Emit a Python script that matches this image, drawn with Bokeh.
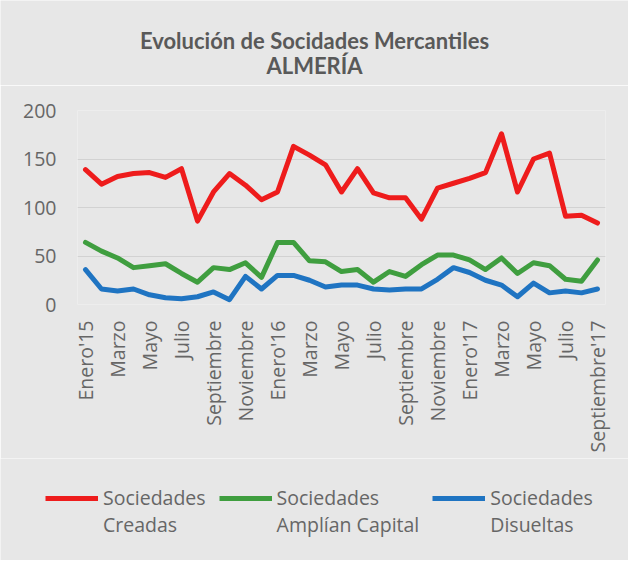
import math
from bokeh.plotting import figure
from bokeh.layouts import column
from bokeh.models import FixedTicker, Legend, LegendItem, Range1d, Label
from bokeh.embed import file_html
from bokeh.resources import INLINE

months = ["Enero'15", "Febrero", "Marzo", "Abril", "Mayo", "Junio", "Julio", "Agosto",
          "Septiembre", "Octubre", "Noviembre", "Diciembre",
          "Enero'16", "Febrero", "Marzo", "Abril", "Mayo", "Junio", "Julio", "Agosto",
          "Septiembre", "Octubre", "Noviembre", "Diciembre",
          "Enero'17", "Febrero", "Marzo", "Abril", "Mayo", "Junio", "Julio", "Agosto",
          "Septiembre'17"]

creadas = [139, 124, 132, 135, 136, 131, 140, 86, 116, 135, 123, 108, 116, 163, 154, 144,
           116, 140, 115, 110, 110, 88, 120, 125, 130, 136, 176, 116, 150, 156, 91, 92, 84]
amplian = [64, 55, 48, 38, 40, 42, 32, 23, 38, 36, 43, 28, 64, 64, 45, 44,
           34, 36, 23, 34, 29, 41, 51, 51, 46, 36, 48, 32, 43, 40, 26, 24, 46]
disueltas = [36, 16, 14, 16, 10, 7, 6, 8, 13, 5, 29, 16, 30, 30, 25, 18,
             20, 20, 16, 15, 16, 16, 26, 38, 33, 25, 20, 8, 22, 12, 14, 12, 16]

y_ticks = [0, 50, 100, 150, 200]
series = [creadas, amplian, disueltas]
series_names = ["Sociedades\nCreadas", "Sociedades\nAmplían Capital", "Sociedades\nDisueltas"]
series_colors = ["#ee1c1c", "#3f9e3f", "#1f74c2"]
title_line1 = "Evolución de Socidades Mercantiles"
title_line2 = "ALMERÍA"

x = list(range(len(months)))
tick_idx = x[::2]

BG = "#e7e7e7"
TXT = "#666666"
W = 628
TH = 85          # title block height
MB = 458         # main block bottom
LH = 560 - MB    # legend block height


def blank(h):
    f = figure(width=W, height=h, output_backend="svg", toolbar_location=None,
               x_axis_type=None, y_axis_type=None,
               x_range=Range1d(-0.5, len(months) - 0.5), y_range=Range1d(1000, 1001),
               min_border_left=0, min_border_right=0, min_border_top=0, min_border_bottom=0,
               background_fill_color=BG, border_fill_color=BG)
    f.outline_line_color = None
    f.grid.visible = False
    f.frame_align = False
    return f


# ---- title block
pt = blank(TH)
pt.add_layout(Label(x=W / 2, y=TH - 40, x_units="screen", y_units="screen", text=title_line1,
                    text_align="center", text_baseline="middle",
                    text_font="Lato", text_font_style="bold", text_font_size="22px",
                    text_color="#595959"))
pt.add_layout(Label(x=W / 2, y=TH - 65, x_units="screen", y_units="screen", text=title_line2,
                    text_align="center", text_baseline="middle",
                    text_font="Lato", text_font_style="bold", text_font_size="22px",
                    text_color="#595959"))

# ---- main chart
p = figure(width=W, height=MB - TH, output_backend="svg", toolbar_location=None,
           x_range=Range1d(-0.5, len(months) - 0.5), y_range=Range1d(0, 200),
           min_border_left=77, min_border_right=23, min_border_top=110 - TH,
           min_border_bottom=MB - 304,
           background_fill_color=BG, border_fill_color=BG)
p.outline_line_color = None
p.frame_align = False

for vals, col in zip(series, series_colors):
    p.line(x, vals, line_color=col, line_width=5, line_join="round", line_cap="round")

p.xaxis.ticker = FixedTicker(ticks=tick_idx)
p.xaxis.major_label_overrides = {i: months[i] for i in tick_idx}
p.xaxis.major_label_orientation = math.pi / 2
p.yaxis.ticker = FixedTicker(ticks=y_ticks)
for ax in (p.xaxis[0], p.yaxis[0]):
    ax.axis_line_color = None
    ax.major_tick_line_color = None
    ax.minor_tick_line_color = None
    ax.major_tick_out = 0
    ax.major_tick_in = 0
    ax.major_label_text_font = "Open Sans"
    ax.major_label_text_font_size = "19.5px"
    ax.major_label_text_color = TXT
p.xaxis.major_label_standoff = 16
p.yaxis.major_label_standoff = 21

p.xgrid.grid_line_color = None
p.ygrid.grid_line_color = "#d2d2d2"
p.ygrid.grid_line_width = 1
p.ygrid.ticker = FixedTicker(ticks=y_ticks)

# ---- legend block (series drawn out of view; only their legend glyphs show)
pl = blank(LH)
legend_renderers = [pl.line(x, vals, line_color=c, line_width=5) for vals, c in zip(series, series_colors)]
# a leading empty line puts the glyph level with the first text line, as in the reference
legend = Legend(items=[LegendItem(label="\n" + n, renderers=[r])
                       for n, r in zip(series_names, legend_renderers)],
                orientation="horizontal", location=(45, 22),
                glyph_width=53, glyph_height=30, label_standoff=5, spacing=13,
                padding=0, margin=0,
                label_text_font="Open Sans", label_text_font_size="19.5px",
                label_text_color=TXT, label_text_line_height=1.5,
                background_fill_alpha=0, border_line_alpha=0)
pl.add_layout(legend, "center")

layout = column(pt, p, pl, spacing=0)
open("out.html", "w").write(file_html(layout, INLINE))
